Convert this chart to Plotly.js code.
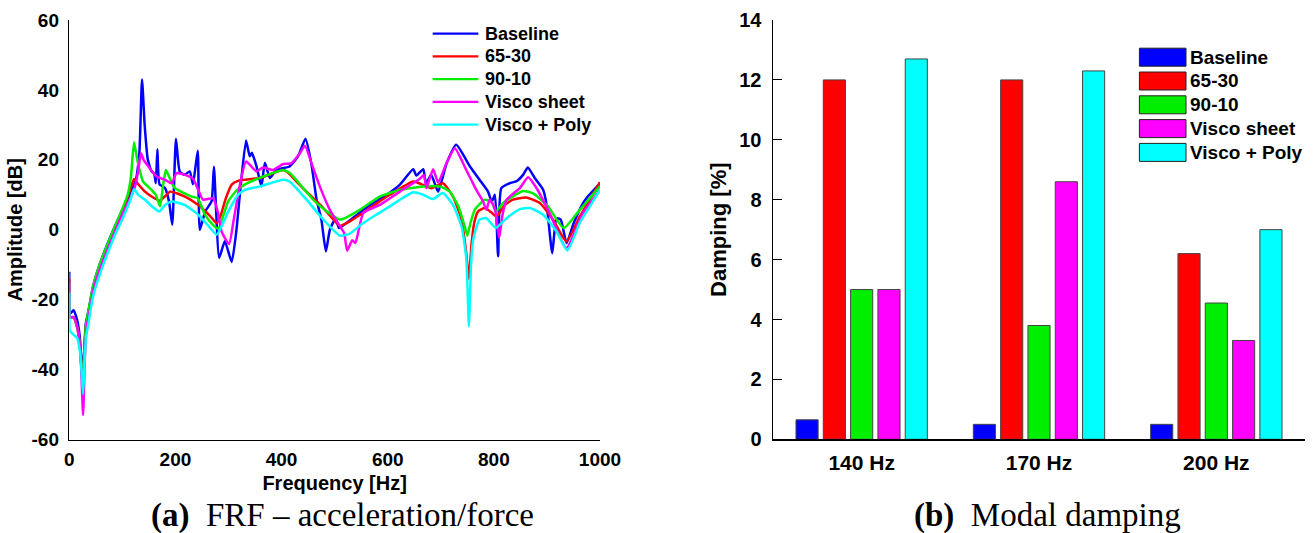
<!DOCTYPE html>
<html>
<head>
<meta charset="utf-8">
<script src="https://cdn.plot.ly/plotly-3.0.1.min.js"></script>
<style>
html,body{margin:0;padding:0;background:#fff;}
#chart{width:1315px;height:533px;}
</style>
</head>
<body>
<div id="chart"></div>
<script>
// ---------- Data: (a) FRF acceleration/force ----------
const seriesNames = ['Baseline', '65-30', '90-10', 'Visco sheet', 'Visco + Poly'];
const seriesColors = ['#0000ff', '#ff0000', '#00ee00', '#ff00ff', '#00ffff'];

const freqBaseline = [0,1.5,8,15,20,25,28,31,35,40,45,57,86,100,115,125,132,137,142,148,155,160,163,166,170,180,188,194,201,208,217,227,233,242,246,256,268,272.5,282.5,293,306,315,321,333,340,344,353,362,368.5,378,390,415,431,445,456,466,475,483.5,491,502,508,522,538,554,572,598,623,648,654,667,672,682,695,711,729,755,773,789,796,802,808,814,830,843,855,864,877,893,900,910,918,926,937,950,968,977,1000];
const ampBaseline = [-12,-24,-23,-26,-31,-42,-35,-27,-24,-20,-16,-10,1,5.5,10.5,14,22,43,30,20,16.7,16,13.3,23,13,12,8,1.4,26,16.7,15.7,16.7,13,22.6,0,5.2,8.1,18,-8,-3.3,-9.2,0,9.5,25.5,21,22,18,12.4,19.2,14.8,17.1,18.1,21,26,19,8.6,2.9,-6.2,0,3.3,0.5,1.9,3.8,5.7,7.6,10,12.9,17.3,15.5,17.3,13.3,15.7,10.9,19,24.3,18.1,14.3,10.9,8,10,-7.6,11.9,13.3,13.9,15.7,17.8,14.8,11.4,6.6,-6.7,3.3,2.9,-3.8,1.7,7.6,9.5,13.3];

const freq6530 = [0,1.5,8,15,20,25,28,31,35,40,45,57,86,100,115,122,130,142.6,155,171,180,190,218,243,265,277.6,285,295,306,318,359,403,412,430,447,478.7,510,528.6,550,573,604,648,664,682.5,704,723,739,748,753,758,763,770,783,795,805,820,836,861,887,911.5,936.7,962,980,1000];
const amp6530 = [-14,-25,-25,-28,-33,-44,-36,-28,-24.5,-20.5,-16.5,-10.5,0.5,5.5,11.5,14.5,13,10.9,9.5,8.3,9.5,10.9,9.5,7.1,4,1.9,4,9,12.9,14,14.8,17.1,16.4,13.5,10.9,6.2,1.1,2.4,4.5,6.9,10,13.8,13,11.9,13.3,9.5,2.9,-6.7,-14,-4,2,5.2,6.2,5,3.8,7,8.6,9.2,7.6,2.9,-3.3,3.8,8.5,13.6];

const freq9010 = [0,1.5,8,15,20,25,28,31,35,40,45,57,86,100,110,116,122,128,133,139,155,163,171,177,182,190,199,230,242,255.6,270,280.6,290,299.5,315,331,365,403,415.6,440.7,466,510,547.5,585,623,667,698,717,733,745,750,756,764,783,796,803.6,817,855,874,902,931.6,962,1000];
const amp9010 = [-15,-25,-25,-28,-33,-44,-36,-28,-24,-20,-16,-10,1,6,10,15,25,20,16.7,13.8,11.4,10,6.7,13,17.1,14.5,11.9,9.5,9,4.3,1.5,0.3,4,8.1,11.2,13,15.2,17.1,16.2,11.9,7.6,2.9,5.7,9.5,11.4,12.4,12.4,10.9,6.7,1,-1.7,2,5.7,8.6,8,5.2,7.6,11.1,10.4,6.7,0.5,5.7,12.4];

const freqVisco = [0,1.5,8,15,21,26,29,32,36,40,45,57,86,100,115,125,130,135,140,145.7,164.5,180,193,202,218,233,243,252,271,280,287,301,310,321.5,333,353,365,384,403,418,434.5,444,456.5,472,491,510,518,523.6,533,539,554,585,623,660,668,673,685.5,695,710.7,726.4,748,767,779.7,786,792,801.7,810,816,824,849,864.5,880,905,936.7,968,1000];
const ampVisco = [-15,-25,-25,-28,-35,-53,-38,-29,-25,-22,-17.5,-11.5,-0.5,4.5,9,13,17,21.9,20,18.8,15.2,14.3,13.3,16.2,15.7,14.6,11.4,8.6,9,5,-0.5,-4.1,3,12.9,19.5,16.7,17.8,17.1,18.8,19,21.9,24,19,12.4,5.7,1,-1,-6,-3,-3.8,4.8,7.1,10.9,14.5,15.7,11.9,17.3,13.5,19,23.3,17.1,11.4,8.1,5.7,8.6,6.2,-2.4,4,8.6,11.9,15,12,4.8,-5.2,4.8,11.4];

const freqViscoPoly = [0,1.5,8,15,21,26,29,32,36,40,45,57,86,100,115,122,130,142.6,155,169.5,180,193,217,243,260,277.6,290,299.5,318,331,359,403,415,430,447,478.7,510,528.6,550,573,604,648,667,685.5,704,723,739,748,753,757,761,773,786,803.6,824,849,868,893,918,938.6,962,980,1000];
const ampViscoPoly = [-18,-29,-30,-31,-36,-47,-37,-30,-27,-23,-19,-13,-1.5,3,8.5,11.6,10,8.6,6.8,5.2,7,8.1,7.1,4.3,1.5,-1.4,2,5.2,10,11.4,12.4,14.3,13.8,11.5,8.6,2.9,-1.7,-1.1,1.5,3.8,6.7,10.7,10,8.8,10.5,7.1,1,-8,-27.6,-10,-2.9,2.9,3.3,0.5,3.3,5.9,6.2,4.3,-0.5,-5.9,2,6.5,11.4];

const freqTicks = [0, 200, 400, 600, 800, 1000];
const ampTicks = [-60, -40, -20, 0, 20, 40, 60];

// ---------- Data: (b) Modal damping ----------
const modeLabels = ['140 Hz', '170 Hz', '200 Hz'];
const dampBaseline = [0.65, 0.5, 0.5];
const damp6530 = [12, 12, 6.2];
const damp9010 = [5, 3.8, 4.55];
const dampVisco = [5, 8.6, 3.3];
const dampViscoPoly = [12.7, 12.3, 7.0];
const dampTicks = [0, 2, 4, 6, 8, 10, 12, 14];

const freqSets = [freqBaseline, freq6530, freq9010, freqVisco, freqViscoPoly];
const ampSets = [ampBaseline, amp6530, amp9010, ampVisco, ampViscoPoly];
const dampSets = [dampBaseline, damp6530, damp9010, dampVisco, dampViscoPoly];

// ---------- Build ----------
const W = 1315, H = 533;
const px = v => v / W;           // pixel -> paper x
const py = v => (H - v) / H;     // pixel -> paper y
const sans = 'Liberation Sans, Arial, sans-serif';
const bf = s => ({family: sans, size: s, color: '#000', weight: 'bold'});

const traces = [];
seriesNames.forEach((name, i) => {
  traces.push({
    type: 'scatter', mode: 'lines', name: name,
    x: freqSets[i], y: ampSets[i],
    xaxis: 'x', yaxis: 'y',
    line: {color: seriesColors[i], width: 2.5, shape: 'spline', smoothing: 0.5},
    showlegend: false
  });
});
seriesNames.forEach((name, i) => {
  traces.push({
    type: 'bar', name: name,
    x: modeLabels, y: dampSets[i],
    xaxis: 'x2', yaxis: 'y2',
    marker: {color: seriesColors[i], line: {color: '#444', width: 1}},
    showlegend: false
  });
});

const shapes = [];
const annotations = [];

// custom legend (a)
seriesNames.forEach((name, i) => {
  const yc = 33.7 + i * 22.75;
  shapes.push({type: 'line', xref: 'paper', yref: 'paper',
    x0: px(432.7), x1: px(478.3), y0: py(yc), y1: py(yc),
    line: {color: seriesColors[i], width: 2.2}});
  annotations.push({xref: 'paper', yref: 'paper', x: px(483.3), y: py(yc),
    xanchor: 'left', yanchor: 'middle', showarrow: false, text: name, font: bf(18)});
});
// custom legend (b)
seriesNames.forEach((name, i) => {
  const yt = 48.2 + i * 23.8;
  shapes.push({type: 'rect', xref: 'paper', yref: 'paper',
    x0: px(1139.4), x1: px(1186), y0: py(yt), y1: py(yt + 18),
    fillcolor: seriesColors[i], line: {color: '#222', width: 1}});
  annotations.push({xref: 'paper', yref: 'paper', x: px(1188), y: py(yt + 9),
    xanchor: 'left', yanchor: 'middle', showarrow: false, text: name, font: bf(19)});
});

// captions
const capFont = {family: 'Liberation Serif, Times New Roman, serif', size: 33, color: '#000', weight: 'normal'};
annotations.push({xref: 'paper', yref: 'paper', x: px(342), y: py(515), xanchor: 'center', yanchor: 'middle',
  showarrow: false, text: '<b>(a)</b>  FRF – acceleration/force', font: capFont});
annotations.push({xref: 'paper', yref: 'paper', x: px(1047), y: py(515), xanchor: 'center', yanchor: 'middle',
  showarrow: false, text: '<b>(b)</b>  Modal damping', font: capFont});

const layout = {
  width: W, height: H,
  margin: {l: 0, r: 0, t: 0, b: 0},
  paper_bgcolor: '#fff', plot_bgcolor: '#fff',
  showlegend: false,
  font: {family: sans, size: 18, color: '#000'},
  barmode: 'group', bargap: 0.23, bargroupgap: 0.19,
  xaxis: {
    domain: [px(69.3), px(600)], range: [0, 1000],
    tickmode: 'array', tickvals: freqTicks, ticktext: freqTicks.map(String),
    showline: true, linecolor: '#000', linewidth: 1.5,
    showgrid: false, zeroline: false, ticks: '', tickfont: bf(19), ticklabelstandoff: 2,
    automargin: false,
    title: {text: 'Frequency [Hz]', font: bf(20), standoff: 7}
  },
  yaxis: {
    domain: [py(439.5), py(20)], range: [-60, 60],
    tickmode: 'array', tickvals: ampTicks, ticktext: ampTicks.map(String),
    showline: true, linecolor: '#000', linewidth: 1.5,
    showgrid: false, zeroline: false, ticks: '', tickfont: bf(19), ticklabelstandoff: 5,
    automargin: false,
    title: {text: 'Amplitude [dB]', font: bf(20), standoff: 3}
  },
  xaxis2: {
    domain: [px(773), px(1305)], anchor: 'y2',
    showline: true, linecolor: '#000', linewidth: 1.5,
    showgrid: false, zeroline: false, ticks: '', tickfont: bf(21), ticklabelstandoff: 4,
    automargin: false
  },
  yaxis2: {
    domain: [py(439.3), py(20)], anchor: 'x2', range: [0, 14],
    tickmode: 'array', tickvals: dampTicks, ticktext: dampTicks.map(String),
    showline: true, linecolor: '#000', linewidth: 1.5,
    showgrid: false, zeroline: false, ticks: 'inside', ticklen: 9, tickwidth: 1, tickcolor: '#000',
    tickfont: bf(20), ticklabelstandoff: 6, automargin: false,
    title: {text: 'Damping [%]', font: bf(22), standoff: 6}
  },
  shapes: shapes,
  annotations: annotations
};

Plotly.newPlot('chart', traces, layout, {displayModeBar: false, staticPlot: true});
</script>
</body>
</html>
